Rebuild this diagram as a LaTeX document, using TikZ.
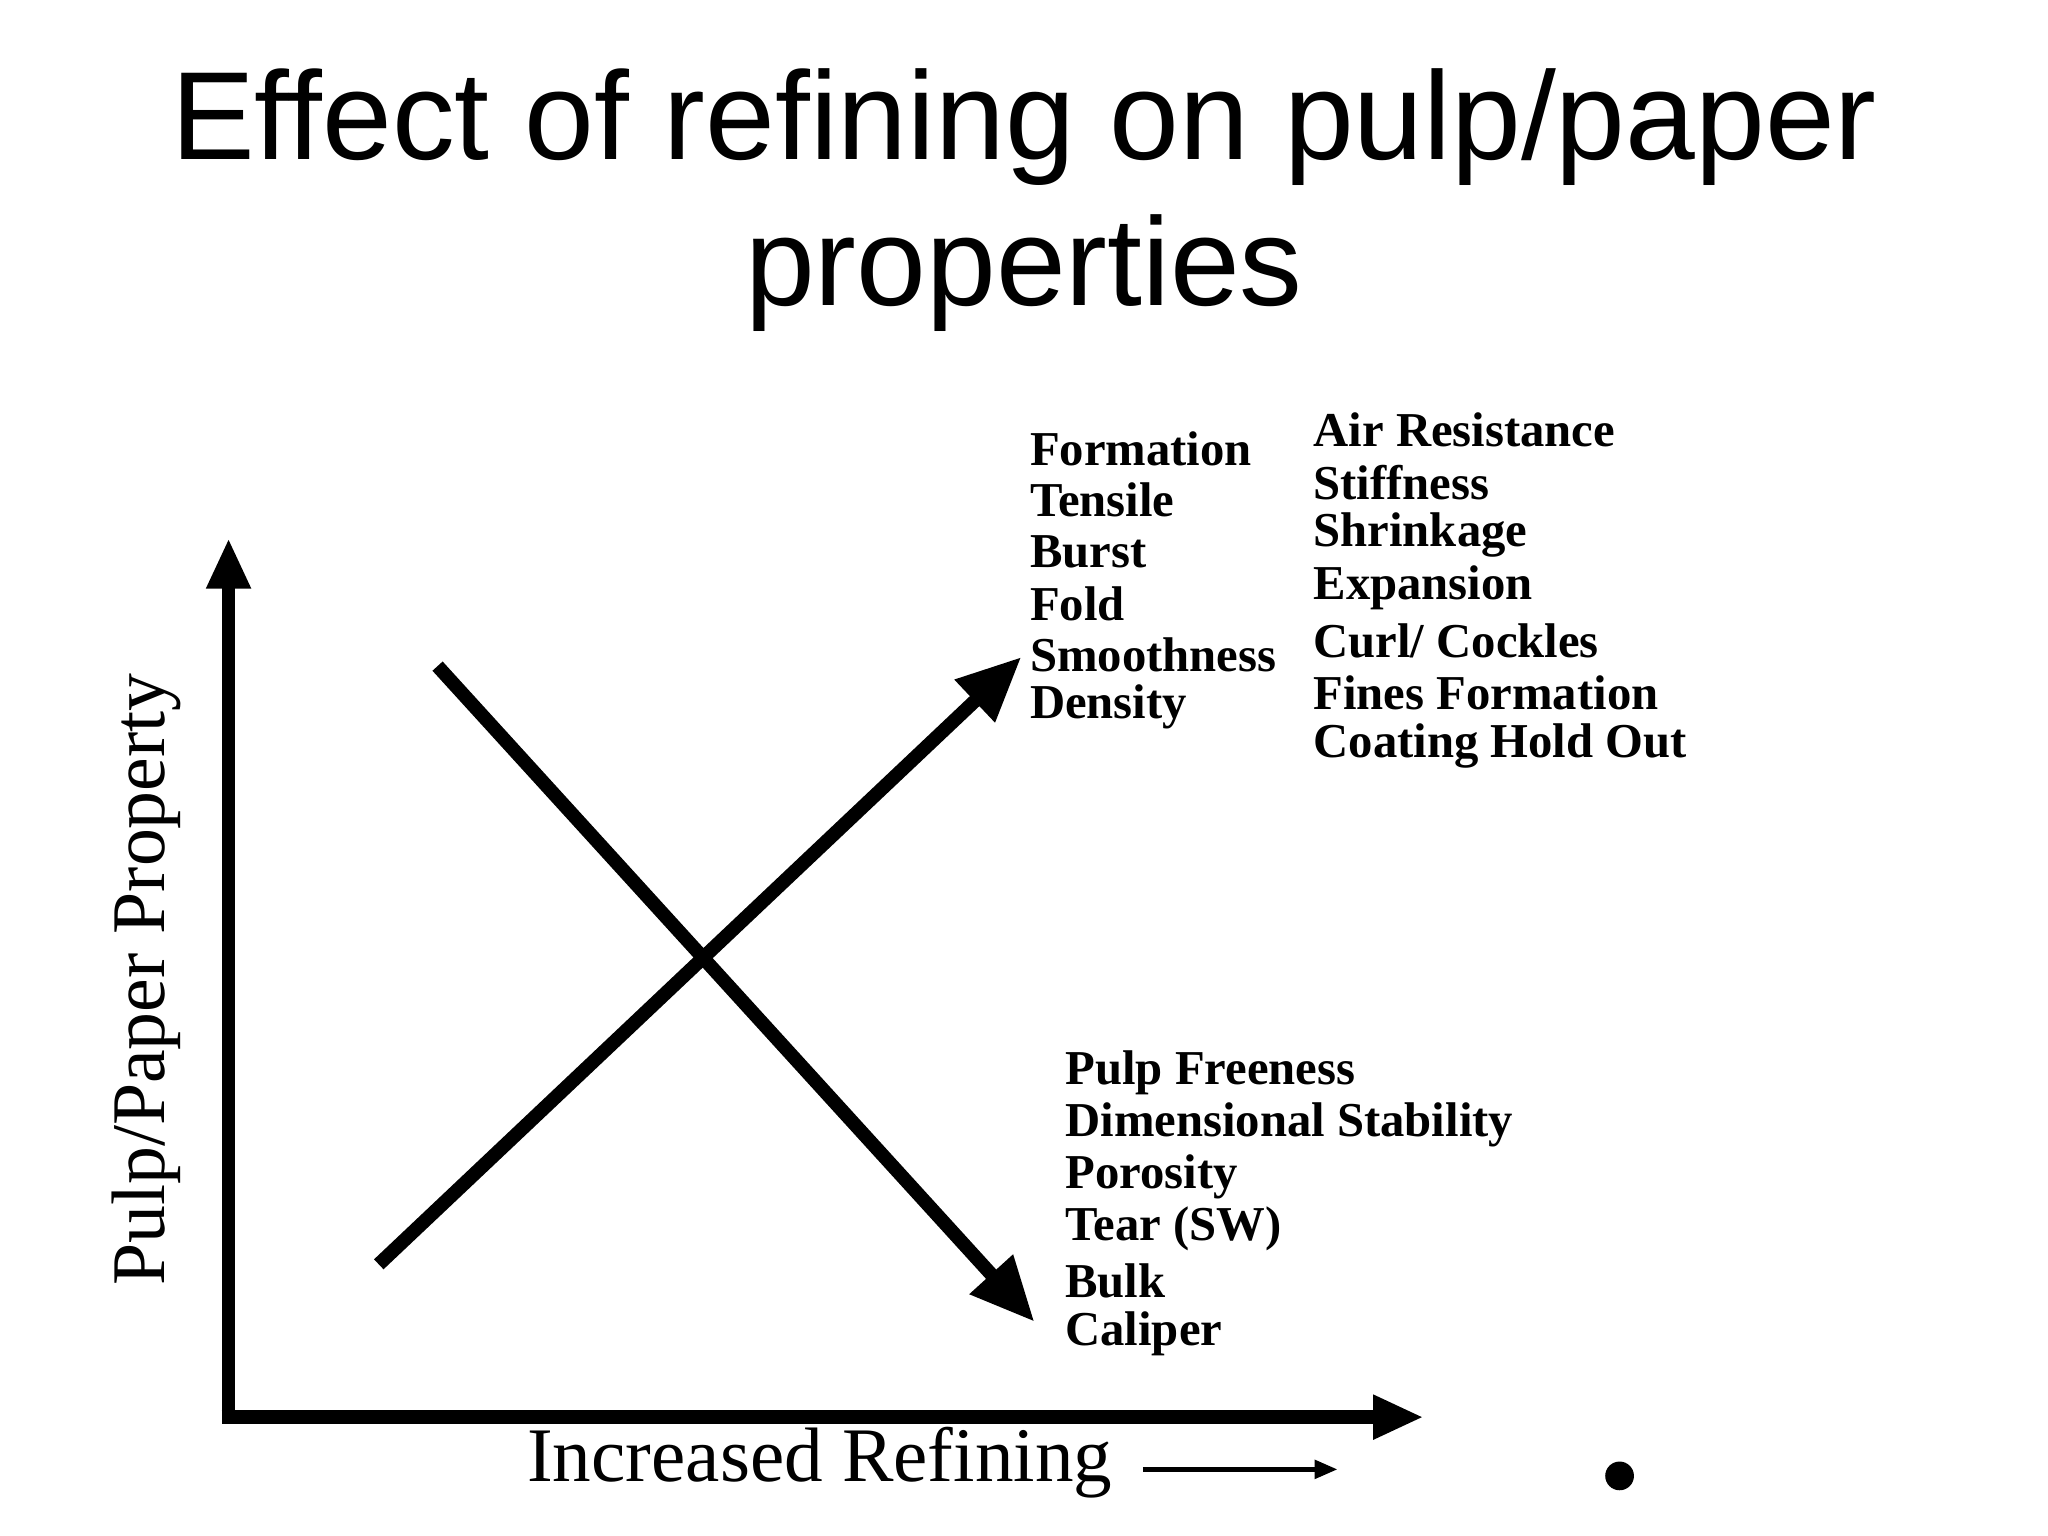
\documentclass[tikz,border=0pt]{standalone}
\usepackage{fontspec}
\setmainfont{Liberation Serif}
\newfontfamily\titlefont{Liberation Sans}
\usetikzlibrary{arrows.meta}
\begin{document}
\begin{tikzpicture}[x=0.01cm,y=-0.01cm,
  prop/.style={anchor=west,font=\fontsize{10.6}{12}\bfseries\selectfont,inner sep=0pt},
  ttl/.style={font=\titlefont\fontsize{27.3}{30}\selectfont,inner sep=0pt}]
\useasboundingbox[fill=white] (0,0) rectangle (1568,1176);
\node[ttl] (t1) at (784,97) {Effect of refining on pulp/paper};
\node[ttl] (t2) at (784,209) {properties};
\coordinate (o) at (175,1085);
\coordinate (ytop) at (175,412);
\coordinate (xend) at (1090,1085);
\draw[line width=3pt,-{Triangle[length=11pt,width=9pt]}] (o) -- (ytop);
\draw[line width=3pt,-{Triangle[length=11pt,width=9pt]}] ([xshift=-1.5pt]o) -- (xend);
\coordinate (u1) at (290,968);
\coordinate (u2) at (782,503);
\coordinate (d1) at (335,510);
\coordinate (d2) at (792,1012);
\draw[line width=3pt,-{Triangle[length=14pt,width=12pt]}] (u1) -- (u2);
\draw[line width=3pt,-{Triangle[length=14pt,width=12pt]}] (d1) -- (d2);
\foreach \t [count=\i] in {Formation,Tensile,Burst,Fold,Smoothness,Density}
  \node[prop] (l\i) at (788,304+39.5*\i) {\t};
\foreach \t [count=\i] in {Air Resistance,Stiffness,Shrinkage,Expansion,Curl/ Cockles,Fines Formation,Coating Hold Out}
  \node[prop] (r\i) at (1005,289+40.3*\i) {\t};
\foreach \t [count=\i] in {Pulp Freeness,Dimensional Stability,Porosity,Tear (SW),Bulk,Caliper}
  \node[prop] (b\i) at (815,781+40*\i) {\t};
\node[rotate=90,font=\fontsize{16.5}{18}\selectfont,inner sep=0pt] (yl) at (112,750) {Pulp/Paper Property};
\node[anchor=west,font=\fontsize{16.8}{18}\selectfont,inner sep=0pt] (xl) at (403,1120) {Increased Refining};
\coordinate (xa1) at (875,1125);
\coordinate (xa2) at (1024,1125);
\draw[line width=1pt,-{Triangle[length=5pt,width=4pt]}] (xa1) -- (xa2);
\fill (1240,1130) circle (11);
\end{tikzpicture}
\end{document}
